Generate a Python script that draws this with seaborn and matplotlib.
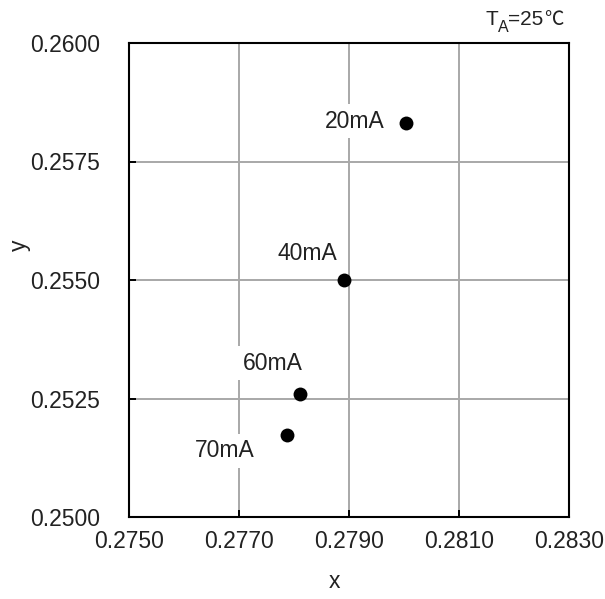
import matplotlib
matplotlib.use("Agg")
import matplotlib.pyplot as plt
import seaborn as sns
import pandas as pd

# Chromaticity coordinates at each drive current
currents = ["20mA", "40mA", "60mA", "70mA"]
x_coord = [0.28003, 0.27891, 0.27810, 0.27787]
y_coord = [0.25831, 0.25500, 0.25259, 0.25173]

x_ticks = [0.2750, 0.2770, 0.2790, 0.2810, 0.2830]
y_ticks = [0.2500, 0.2525, 0.2550, 0.2575, 0.2600]

# label placement relative to each point (pixels, right edge / vertical centre)
label_offsets = [(-21, 2), (-7, 26), (3, 31), (-32, -16)]

sns.set_style("ticks")
plt.rcParams["font.family"] = ["Liberation Sans", "DejaVu Sans"]

df = pd.DataFrame({"x": x_coord, "y": y_coord, "current": currents})

fig = plt.figure(figsize=(6.05, 5.99), dpi=100)
ax = fig.add_axes([129 / 605, 82 / 599, 440 / 605, 474 / 599])

sns.scatterplot(data=df, x="x", y="y", ax=ax, color="black", s=100,
                linewidth=0, zorder=4, legend=False)

ax.set_xlim(x_ticks[0], x_ticks[-1])
ax.set_ylim(y_ticks[0], y_ticks[-1])
ax.set_xticks(x_ticks)
ax.set_yticks(y_ticks)
ax.set_xticklabels([f"{v:.4f}" for v in x_ticks])
ax.set_yticklabels([f"{v:.4f}" for v in y_ticks])

ax.grid(True, color="#a8a8a8", linewidth=1.4)
ax.set_axisbelow(True)
for s in ax.spines.values():
    s.set_visible(True)
    s.set_color("black")
    s.set_linewidth(1.5)

ax.tick_params(axis="both", direction="in", length=5, width=1.4,
               color="black", labelsize=16.5, labelcolor="#222222")
ax.tick_params(axis="x", pad=9.5)
ax.tick_params(axis="y", pad=21)

ax.set_xlabel("x", fontsize=16.5, color="#222222")
ax.set_ylabel("y", fontsize=16.5, color="#222222")
ax.xaxis.set_label_coords(0.468, -0.137)
ax.xaxis.label.set_va("center")
ax.yaxis.set_label_coords(-0.248, 0.574)
ax.yaxis.label.set_va("center")

for lab, xv, yv, (dx, dy) in zip(currents, x_coord, y_coord, label_offsets):
    ax.annotate(lab, xy=(xv, yv), xytext=(dx, dy), textcoords="offset pixels",
                ha="right", va="center", fontsize=16.5, color="#222222",
                zorder=3,
                bbox=dict(boxstyle="square,pad=0.25", fc="white", ec="none"))

# ambient temperature note: T with subscript A, then =25℃
base_y = 1 - 25 / 599
t1 = fig.text(485 / 605, base_y, "T", fontsize=15, va="baseline",
              color="#222222")
t2 = fig.add_artist(matplotlib.text.Annotation(
    "A", xy=(1, base_y), xycoords=(t1, "figure fraction"),
    xytext=(0, -7), textcoords="offset pixels", va="baseline", ha="left",
    fontsize=11.5, color="#222222"))
t3 = fig.add_artist(matplotlib.text.Annotation(
    "=25", xy=(1, base_y), xycoords=(t2, "figure fraction"),
    va="baseline", ha="left", fontsize=15, color="#222222"))
fig.add_artist(matplotlib.text.Annotation(
    "℃", xy=(1, base_y), xycoords=(t3, "figure fraction"),
    va="baseline", ha="left", fontsize=14, color="#222222",
    family=["Noto Sans CJK SC", "DejaVu Sans"]))

fig.savefig("out.png", dpi=100)
